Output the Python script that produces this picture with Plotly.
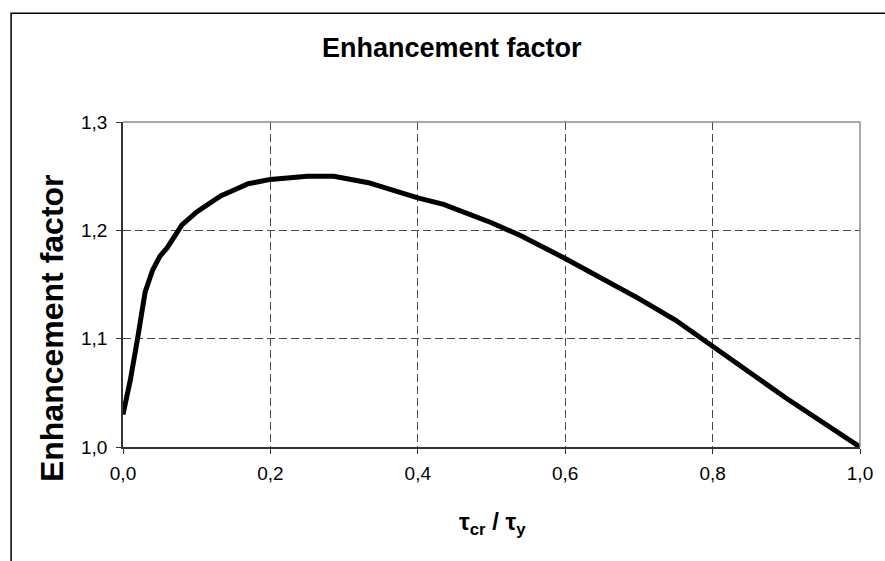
import plotly.graph_objects as go

# Data
ratio_x = [0.0, 0.01, 0.02, 0.03, 0.04, 0.05, 0.06, 0.08, 0.10, 0.133, 0.15, 0.17,
           0.20, 0.25, 0.286, 0.333, 0.40, 0.435, 0.50, 0.54, 0.60, 0.70, 0.75,
           0.80, 0.833, 0.90, 1.0]
factor_y = [1.030, 1.062, 1.101, 1.143, 1.163, 1.176, 1.184, 1.205, 1.217, 1.232,
            1.237, 1.243, 1.247, 1.250, 1.250, 1.244, 1.230, 1.224, 1.207, 1.195,
            1.174, 1.137, 1.117, 1.093, 1.078, 1.045, 1.000]

x_tick_vals = [0.0, 0.2, 0.4, 0.6, 0.8, 1.0]
x_tick_text = ["0,0", "0,2", "0,4", "0,6", "0,8", "1,0"]
y_tick_vals = [1.0, 1.1, 1.2, 1.3]
y_tick_text = ["1,0", "1,1", "1,2", "1,3"]

title_text = "<b>Enhancement factor</b>"
y_title_text = "<b>Enhancement factor</b>"
x_title_text = "<b>τ<sub>cr</sub> / τ<sub>y</sub></b>"

FONT = "Liberation Sans, Arial, sans-serif"
W, H = 885, 561
L, R, T, B = 122.5, 21.5, 121.5, 114
pw, ph = W - L - R, H - T - B

def px_to_paper_x(px):
    return (px - L) / pw

def px_to_paper_y(py):
    return (H - B - py) / ph

fig = go.Figure()
fig.add_trace(go.Scatter(
    x=ratio_x, y=factor_y, mode="lines",
    line=dict(color="black", width=5),
    showlegend=False, hoverinfo="skip", cliponaxis=False,
))

grid = dict(showgrid=True, gridcolor="#4a4a4a", gridwidth=1, griddash="8px,4px")

fig.update_layout(
    width=W, height=H,
    margin=dict(l=L, r=R, t=T, b=B, pad=0),
    paper_bgcolor="white", plot_bgcolor="white",
    font=dict(family=FONT, color="black", size=19),
    xaxis=dict(range=[0, 1.0], tickvals=x_tick_vals, ticktext=x_tick_text,
               showline=True, linecolor="#333333", linewidth=1.5,
               ticks="outside", ticklen=5, tickcolor="#333333", tickwidth=1,
               ticklabelstandoff=3, zeroline=False,
               tickfont=dict(family=FONT, size=19, color="black"), **grid),
    yaxis=dict(range=[1.0, 1.3], tickvals=y_tick_vals, ticktext=y_tick_text,
               showline=True, linecolor="#333333", linewidth=1.5,
               ticks="outside", ticklen=5, tickcolor="#333333", tickwidth=1,
               ticklabelstandoff=5, zeroline=False,
               tickfont=dict(family=FONT, size=19, color="black"), **grid),
)

# Plot area top/right border (gray)
fig.add_shape(type="line", xref="paper", yref="paper", x0=0, x1=1, y0=1, y1=1,
              line=dict(color="#8c8c8c", width=1.5))
fig.add_shape(type="line", xref="paper", yref="paper", x0=1, x1=1, y0=0, y1=1,
              line=dict(color="#8c8c8c", width=1.5))

# Outer chart frame (extends past right/bottom edge)
fig.add_shape(type="rect", xref="paper", yref="paper",
              x0=px_to_paper_x(10), x1=px_to_paper_x(900),
              y0=px_to_paper_y(580), y1=px_to_paper_y(12.5),
              line=dict(color="black", width=1.5), fillcolor="rgba(0,0,0,0)",
              layer="below")

fig.add_annotation(text=title_text, xref="paper", yref="paper",
                   x=px_to_paper_x(453), y=px_to_paper_y(47),
                   xanchor="center", yanchor="middle", showarrow=False,
                   font=dict(family=FONT, size=27, color="black"))
fig.add_annotation(text=y_title_text, xref="paper", yref="paper",
                   x=px_to_paper_x(51), y=px_to_paper_y(328),
                   xanchor="center", yanchor="middle", showarrow=False,
                   textangle=-90,
                   font=dict(family=FONT, size=32, color="black"))
fig.add_annotation(text=x_title_text, xref="paper", yref="paper",
                   x=px_to_paper_x(494), y=px_to_paper_y(524),
                   xanchor="center", yanchor="middle", showarrow=False,
                   font=dict(family=FONT, size=24, color="black"))

fig.write_html("out.html")
